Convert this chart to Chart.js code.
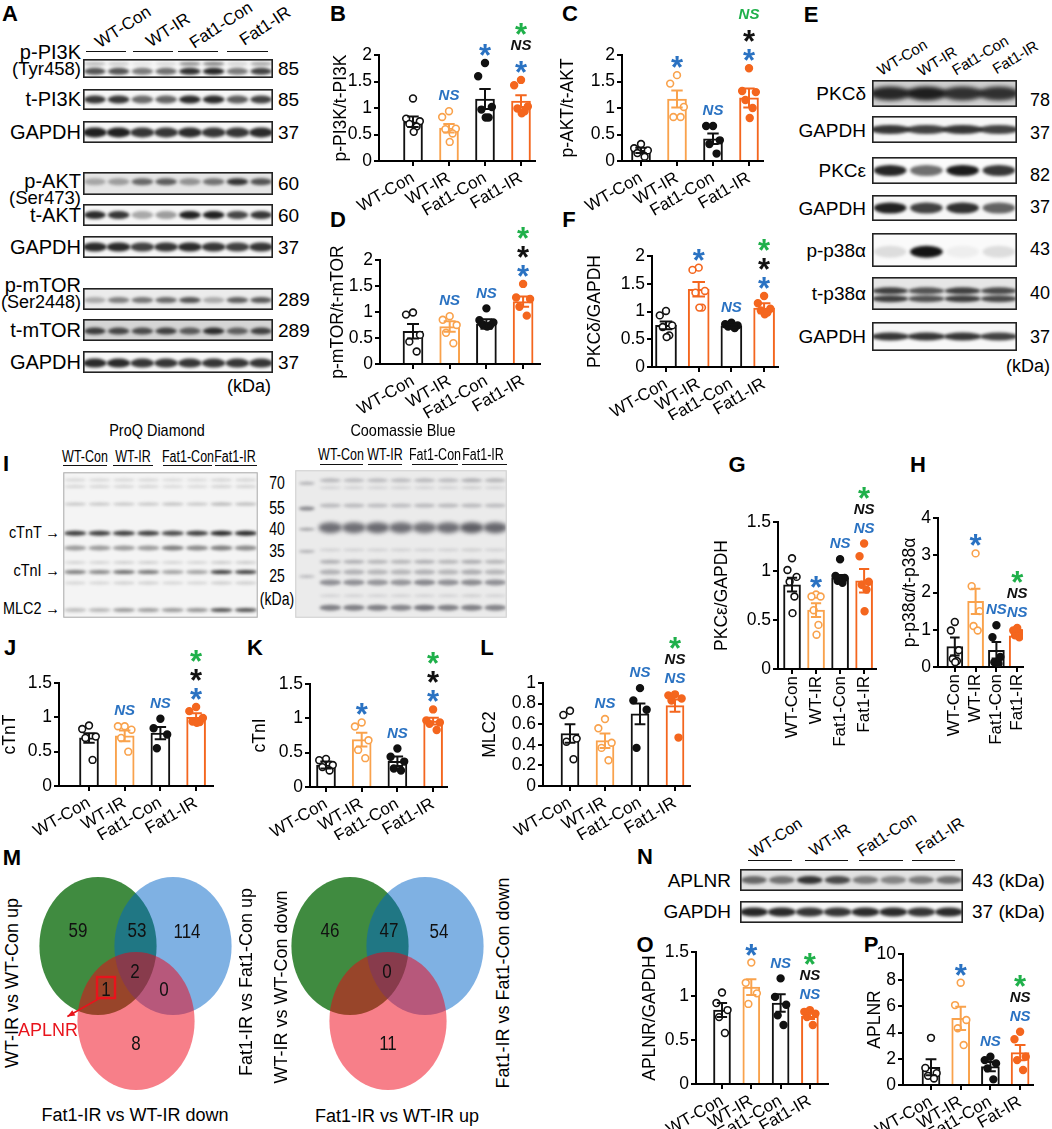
<!DOCTYPE html>
<html>
<head>
<meta charset="utf-8">
<script src="https://cdn.jsdelivr.net/npm/chart.js@4.4.1/dist/chart.umd.min.js"></script>
<style>
  body { margin: 0; background: #fff; }
  #fig { position: relative; width: 1052px; height: 1129px; overflow: hidden; font-family: Arial, "Liberation Sans", sans-serif; color: #000; }
  .t { position: absolute; white-space: nowrap; line-height: 1; }
  .ln { position: absolute; border-top: 1.6px solid #111; height: 0; }
  canvas { position: absolute; }
</style>
</head>
<body>
<div id="fig"></div>
<script>
// ---- data ----
const groups = ["WT-Con", "WT-IR", "Fat1-Con", "Fat1-IR"];
const groupsP = ["WT-Con", "WT-IR", "Fat1-Con", "Fat-IR"];

// B p-PI3K/t-PI3K
const pi3kMean = [0.74, 0.62, 1.17, 1.13];
const pi3kSem = [0.1, 0.08, 0.19, 0.11];
const pi3kDots = [[1.18, 0.8, 0.75, 0.7, 0.65, 0.55], [0.94, 0.83, 0.61, 0.6, 0.52, 0.36], [1.85, 1.6, 1.02, 0.97, 0.82, 0.82], [1.53, 1.43, 1.03, 0.99, 0.94, 0.9]];
const pi3kSig = [[], ["NS:b"], ["*:b"], ["*:b", "NS:k", "*:g"]];
// C p-AKT/t-AKT
const aktMean = [0.2, 1.17, 0.42, 1.19];
const aktSem = [0.05, 0.16, 0.1, 0.18];
const aktDots = [[0.32, 0.24, 0.2, 0.15, 0.08], [1.62, 1.46, 1.02, 0.83, 0.83], [0.66, 0.66, 0.39, 0.32, 0.14], [1.75, 1.32, 1.3, 1.15, 1.0, 0.81]];
const aktSig = [[], ["*:b"], ["NS:b"], ["*:b", "*:k", "NS:g"]];
// D p-mTOR/t-mTOR
const mtorMean = [0.63, 0.72, 0.77, 1.2];
const mtorSem = [0.14, 0.1, 0.09, 0.1];
const mtorDots = [[0.99, 0.95, 0.56, 0.43, 0.24], [0.92, 0.85, 0.75, 0.6, 0.4], [1.07, 0.84, 0.8, 0.76, 0.74, 0.72], [1.54, 1.28, 1.25, 1.1, 0.93]];
const mtorSig = [[], ["NS:b"], ["NS:b"], ["*:b", "*:k", "*:g"]];
// F PKCδ/GAPDH
const pkcdMean = [0.75, 1.4, 0.74, 1.06];
const pkcdSem = [0.07, 0.13, 0.03, 0.09];
const pkcdDots = [[1.01, 0.93, 0.75, 0.72, 0.57, 0.54], [1.79, 1.75, 1.37, 1.34, 1.07, 1.07], [0.8, 0.77, 0.75, 0.73, 0.7], [1.28, 1.15, 1.05, 1.02, 0.98, 0.95]];
const pkcdSig = [[], ["*:b"], ["NS:b"], ["*:b", "*:k", "*:g"]];
// G PKCε/GAPDH
const pkceMean = [0.86, 0.6, 0.93, 0.9];
const pkceSem = [0.07, 0.07, 0.03, 0.12];
const pkceDots = [[1.13, 1.01, 0.94, 0.89, 0.74, 0.57], [0.76, 0.74, 0.74, 0.6, 0.45, 0.35], [1.12, 0.95, 0.93, 0.9, 0.88], [1.28, 1.15, 0.89, 0.86, 0.81, 0.59]];
const pkceSig = [[], ["*:b"], ["NS:b"], ["NS:b", "NS:k", "*:g"]];
// H p-p38α/t-p38α
const p38Mean = [0.55, 1.76, 0.45, 0.84];
const p38Sem = [0.24, 0.34, 0.22, 0.05];
const p38Dots = [[1.21, 0.98, 0.45, 0.22, 0.16, 0.13], [3.05, 2.17, 1.5, 1.1, 0.98], [1.12, 0.8, 0.27, 0.13, 0.09], [1.05, 0.98, 0.91, 0.85, 0.8]];
const p38Sig = [[], ["*:b"], ["NS:b"], ["NS:b", "NS:k", "*:g"]];
// J cTnT
const tntMean = [0.7, 0.73, 0.77, 1.0];
const tntSem = [0.07, 0.08, 0.09, 0.06];
const tntDots = [[0.88, 0.83, 0.72, 0.7, 0.38], [0.87, 0.87, 0.82, 0.7, 0.5], [0.98, 0.84, 0.75, 0.55], [1.15, 1.09, 0.99, 0.94, 0.93, 0.92]];
const tntSig = [[], ["NS:b"], ["NS:b"], ["*:b", "*:k", "*:g"]];
// K cTnI
const tniMean = [0.32, 0.69, 0.375, 0.96];
const tniSem = [0.05, 0.1, 0.07, 0.05];
const tniDots = [[0.41, 0.39, 0.32, 0.29, 0.24], [0.94, 0.88, 0.68, 0.54, 0.42], [0.56, 0.44, 0.37, 0.27, 0.24], [1.13, 0.97, 0.94, 0.92, 0.83]];
const tniSig = [[], ["*:b"], ["NS:b"], ["*:b", "*:k", "*:g"]];
// L MLC2
const mlcMean = [0.51, 0.44, 0.7, 0.78];
const mlcSem = [0.09, 0.07, 0.1, 0.06];
const mlcDots = [[0.73, 0.69, 0.46, 0.43, 0.26], [0.65, 0.56, 0.42, 0.37, 0.25], [0.95, 0.83, 0.74, 0.37], [0.89, 0.88, 0.85, 0.83, 0.47]];
const mlcSig = [[], ["NS:b"], ["NS:b"], ["NS:b", "NS:k", "*:g"]];
// O APLNR/GAPDH
const aplnrMean = [0.84, 1.1, 0.92, 0.77];
const aplnrSem = [0.08, 0.09, 0.1, 0.03];
const aplnrDots = [[1.04, 0.92, 0.84, 0.76, 0.58], [1.38, 1.15, 1.03, 0.91], [1.2, 0.99, 0.9, 0.78, 0.67], [0.84, 0.82, 0.8, 0.76, 0.67]];
const aplnrSig = [[], ["*:b"], ["NS:b"], ["NS:b", "NS:k", "*:g"]];
// P APLNR (mRNA)
const rnaMean = [1.35, 5.09, 1.4, 2.47];
const rnaSem = [0.61, 0.89, 0.35, 0.58];
const rnaDots = [[3.6, 1.3, 0.9, 0.7, 0.5], [7.81, 6.1, 4.96, 4.33, 3.05], [2.16, 1.9, 1.65, 1.27, 0.43], [4.07, 3.49, 2.16, 1.9, 1.15]];
const rnaSig = [[], ["*:b"], ["NS:b"], ["NS:b", "NS:k", "*:g"]];

// Venn counts: [A only, A∩B, B only, A∩B∩C, A∩C, B∩C, C only]
const vennUpCounts = [59, 53, 114, 2, 1, 0, 8];
const vennDownCounts = [46, 47, 54, 0, null, null, 11];

// blot band intensities (0-1), 8 lanes = 2 per group
const aPPI3K = [0.72, 0.72, 0.55, 0.6, 0.88, 0.92, 0.55, 0.8];
const aPPI3Kup = [0.25, 0.18, 0.08, 0.12, 0.45, 0.5, 0.15, 0.35];
const aTPI3K = [0.85, 0.85, 0.62, 0.65, 0.9, 0.9, 0.68, 0.8];
const aGAPDH1 = [0.95, 0.95, 0.85, 0.85, 0.9, 0.85, 0.85, 0.9];
const aPAKT = [0.3, 0.35, 0.6, 0.65, 0.4, 0.55, 0.85, 0.7];
const aTAKT = [0.9, 0.85, 0.35, 0.4, 0.95, 0.95, 0.78, 0.85];
const aGAPDH2 = [0.9, 0.9, 0.8, 0.85, 0.9, 0.85, 0.8, 0.85];
const aPMTOR = [0.3, 0.5, 0.55, 0.6, 0.7, 0.3, 0.65, 0.68];
const aTMTOR = [0.8, 0.75, 0.72, 0.78, 0.65, 0.88, 0.62, 0.78];
const aGAPDH3 = [0.9, 0.9, 0.85, 0.85, 0.85, 0.85, 0.85, 0.85];
// E, one lane per group
const ePKCd = [0.9, 0.95, 0.85, 0.85];
const eGAPDH1 = [0.85, 0.8, 0.85, 0.8];
const ePKCe = [0.92, 0.6, 0.97, 0.85];
const eGAPDH2 = [0.95, 0.8, 0.88, 0.65];
const eP38p = [0.12, 1, 0.05, 0.12];
const eP38t = [0.8, 0.7, 0.8, 0.75];
const eGAPDH3 = [0.85, 0.85, 0.85, 0.8];
// N
const nAPLNR = [0.6, 0.55, 0.85, 0.75, 0.5, 0.45, 0.5, 0.55];
const nGAPDH = [0.92, 0.9, 0.85, 0.85, 0.9, 0.9, 0.85, 0.9];
// I ProQ Diamond gel
const proqTop = [0.14, 0.14, 0.14, 0.14, 0.12, 0.12, 0.16, 0.16];
const proq55 = [0.22, 0.22, 0.22, 0.22, 0.25, 0.22, 0.3, 0.28];
const proqTnT = [0.85, 0.85, 0.85, 0.85, 0.8, 0.85, 0.95, 0.95];
const proq36 = [0.42, 0.42, 0.42, 0.42, 0.55, 0.5, 0.55, 0.5];
const proqMinor = [0.15, 0.15, 0.18, 0.18, 0.15, 0.15, 0.2, 0.2];
const proqTnI = [0.55, 0.5, 0.62, 0.58, 0.38, 0.38, 0.85, 0.85];
const proqMLC2 = [0.25, 0.28, 0.42, 0.4, 0.42, 0.45, 0.75, 0.75];
// I Coomassie gel (ladder lane + 8 lanes)
const cbLadder = [0.35, 0.6, 0.45, 0.35, 0.3];
const cbTop = [0.3, 0.28, 0.28, 0.28, 0.3, 0.28, 0.35, 0.32];
const cb55 = [0.3, 0.3, 0.28, 0.28, 0.3, 0.3, 0.3, 0.28];
const cbActin = [0.75, 0.75, 0.78, 0.75, 0.72, 0.75, 0.85, 0.8];
const cbMid = [0.35, 0.35, 0.32, 0.32, 0.35, 0.32, 0.38, 0.32];
const cbLower = [0.55, 0.55, 0.52, 0.52, 0.6, 0.55, 0.58, 0.55];
const cbBottom = [0.65, 0.65, 0.65, 0.62, 0.7, 0.65, 0.65, 0.62];
const cbFaint = [0.15, 0.15, 0.15, 0.15, 0.15, 0.15, 0.18, 0.15];

// ---- styles ----
const groupColors = ["#111111", "#f9a24c", "#111111", "#f4661e"];
const groupFill = ["#ffffff", "#ffffff", "#111111", "#f4661e"];
const sigColors = { b: "#2a72c2", k: "#111111", g: "#1fb04a" };
const jit = [0, -0.19, 0.19, -0.1, 0.1, 0.02];

Chart.defaults.font.family = 'Arial, "Liberation Sans", sans-serif';
Chart.defaults.color = "#000";

const fig = document.getElementById("fig");

function txt(s, x, y, o = {}) {
  const d = document.createElement("div");
  d.className = "t";
  d.textContent = s;
  d.style.left = x + "px";
  d.style.top = y + "px";
  d.style.fontSize = (o.size || 17) + "px";
  if (o.bold) d.style.fontWeight = "bold";
  if (o.color) d.style.color = o.color;
  const ax = o.align === "right" ? "-100%" : o.align === "left" ? "0" : "-50%";
  if (o.sx) d.style.transformOrigin = o.align === "right" ? "right center" : o.align === "left" ? "left center" : "center";
  d.style.transform = "translate(" + ax + ",-50%)" + (o.rot ? " rotate(" + o.rot + "deg)" : "") + (o.sx ? " scaleX(" + o.sx + ")" : "");
  fig.appendChild(d);
}

function line(x0, x1, y) {
  const d = document.createElement("div");
  d.className = "ln";
  d.style.left = x0 + "px";
  d.style.top = y + "px";
  d.style.width = (x1 - x0) + "px";
  fig.appendChild(d);
}

function canvasAt(l, t, w, h) {
  const c = document.createElement("canvas");
  c.width = w;
  c.height = h;
  c.style.left = l + "px";
  c.style.top = t + "px";
  c.style.width = w + "px";
  c.style.height = h + "px";
  fig.appendChild(c);
  return c;
}

const hidden = (n) => ({
  responsive: false, animation: false, events: [],
  layout: { padding: 0, autoPadding: false },
  plugins: { legend: { display: false }, tooltip: { enabled: false } },
  scales: {
    x: { type: "linear", display: false, min: -0.5, max: n - 0.5 },
    y: { type: "linear", display: false, min: 0, max: 1, reverse: true },
  },
});

// western blot / gel strip
function blot(l, t, w, h, n, rows, look = {}) {
  new Chart(canvasAt(l, t, w, h), {
    type: "scatter",
    data: { datasets: [] },
    options: hidden(n),
    plugins: [{
      id: "bands",
      beforeDraw(chart) {
        const { ctx, scales: { x, y } } = chart;
        const lw = x.getPixelForValue(1) - x.getPixelForValue(0);
        ctx.save();
        ctx.fillStyle = look.bg || "#f7f7f7";
        ctx.fillRect(0, 0, w, h);
        rows.forEach((r) => {
          ctx.filter = "blur(" + (r.blur || 1.4) + "px)";
          r.vals.forEach((v, i) => {
            ctx.fillStyle = "rgba(" + (look.ink || "20,20,20") + "," + v + ")";
            ctx.beginPath();
            ctx.ellipse(x.getPixelForValue(i + (r.start || 0)), y.getPixelForValue(r.y), lw * (r.wf || 0.46), r.th / 2, 0, 0, Math.PI * 2);
            ctx.fill();
          });
        });
        ctx.filter = "none";
        ctx.strokeStyle = look.frame || "#222";
        ctx.lineWidth = look.fw || 1.6;
        ctx.strokeRect(0.8, 0.8, w - 1.6, h - 1.6);
        ctx.restore();
      },
    }],
  });
}

// bar + scatter + SEM panel
function barPanel(p) {
  const [l, t, w, h] = p.box;
  const [x0, x1, yTop, yBot] = p.plot;
  const cols = p.colors || groupColors;
  const fills = p.fills || groupFill;
  const pts = [], pc = [], pf = [];
  p.dots.forEach((g, i) => g.forEach((v, k) => {
    pts.push({ x: i + jit[k % jit.length], y: v });
    pc.push(cols[i]);
    pf.push(fills[i]);
  }));

  const extras = {
    id: "extras",
    afterDatasetsDraw(chart) {
      const { ctx, scales: { x, y } } = chart;
      ctx.save();
      p.mean.forEach((m, i) => {
        const cx = x.getPixelForValue(i);
        const hi = y.getPixelForValue(m + p.sem[i]);
        const lo = y.getPixelForValue(Math.max(m - p.sem[i], 0));
        const cap = p.barW * 0.3;
        ctx.strokeStyle = cols[i];
        ctx.lineWidth = 2;
        ctx.beginPath();
        ctx.moveTo(cx, lo); ctx.lineTo(cx, hi);
        ctx.moveTo(cx - cap, hi); ctx.lineTo(cx + cap, hi);
        ctx.moveTo(cx - cap, lo); ctx.lineTo(cx + cap, lo);
        ctx.stroke();

        const top = Math.min(hi, y.getPixelForValue(Math.max(...p.dots[i])));
        p.sig[i].forEach((s, k) => {
          const [mark, c] = s.split(":");
          const cy = top - 15 - k * 19;
          ctx.fillStyle = sigColors[c];
          ctx.textAlign = "center";
          if (mark === "*") {
            ctx.font = "bold 31px Arial, 'Liberation Sans'";
            ctx.textBaseline = "alphabetic";
            ctx.fillText("*", cx, cy + 18);
          } else {
            ctx.font = "italic bold 15px Arial, 'Liberation Sans'";
            ctx.textBaseline = "middle";
            ctx.fillText(mark, cx, cy);
          }
        });
      });
      ctx.restore();
    },
  };

  new Chart(canvasAt(l, t, w, h), {
    type: "bar",
    data: {
      datasets: [
        { type: "bar", data: p.mean.map((m, i) => ({ x: i, y: m })), backgroundColor: "#ffffff", borderColor: cols, borderWidth: 2, barThickness: p.barW, borderSkipped: "start", order: 2 },
        { type: "scatter", data: pts, pointRadius: 3.4, pointBorderWidth: 1.6, pointBorderColor: pc, pointBackgroundColor: pf, order: 1 },
      ],
    },
    options: {
      responsive: false, animation: false, events: [],
      layout: { padding: { left: 0, top: yTop - t, right: l + w - x1, bottom: 0 }, autoPadding: false },
      plugins: { legend: { display: false }, tooltip: { enabled: false } },
      scales: {
        x: {
          type: "linear", offset: false,
          min: (x0 - p.c0) / p.sp, max: (x1 - p.c0) / p.sp,
          afterBuildTicks: (s) => { s.ticks = p.cats.map((c, i) => ({ value: i })); },
          afterFit: (s) => { s.height = t + h - yBot; },
          ticks: { autoSkip: false, callback: (v) => p.cats[v], minRotation: p.rot, maxRotation: p.rot, font: { size: 17 }, color: "#000", padding: 2 },
          grid: { drawOnChartArea: false, offset: false, color: "#000", lineWidth: 2, tickLength: 5 },
          border: { color: "#000", width: 2 },
        },
        y: {
          min: 0, max: p.ymax,
          afterFit: (s) => { s.width = x0 - l; },
          ticks: { stepSize: p.step, autoSkip: false, callback: (v) => String(+v.toFixed(2)), font: { size: 17.5 }, color: "#000", padding: 2 },
          title: { display: true, text: p.title, font: { size: 17.5 }, color: "#000", padding: 0 },
          grid: { drawOnChartArea: false, color: "#000", lineWidth: 2, tickLength: 5 },
          border: { color: "#000", width: 2 },
        },
      },
    },
    plugins: [extras],
  });
}

// venn diagram, three translucent sets
const vennSets = [
  { cx: 0.305, cy: 0.327, color: "rgba(0,100,0,0.75)" },
  { cx: 0.68, cy: 0.327, color: "rgba(0,100,200,0.5)" },
  { cx: 0.495, cy: 0.673, color: "rgba(240,0,20,0.5)" },
];
const vennR = [0.293, 0.318];
const vennSpots = [[0.205, 0.258], [0.5, 0.258], [0.75, 0.267], [0.49, 0.447], [0.345, 0.53], [0.635, 0.53], [0.495, 0.78]];

function venn(l, t, w, h, counts, mark) {
  new Chart(canvasAt(l, t, w, h), {
    type: "scatter",
    data: { datasets: [] },
    options: hidden(1),
    plugins: [{
      id: "venn",
      afterDraw(chart) {
        const { ctx, scales: { y } } = chart;
        const px = (f) => f * w;
        const py = (f) => y.getPixelForValue(f);
        ctx.save();
        vennSets.forEach((s) => {
          ctx.fillStyle = s.color;
          ctx.beginPath();
          ctx.ellipse(px(s.cx), py(s.cy), vennR[0] * w, vennR[1] * h, 0, 0, Math.PI * 2);
          ctx.fill();
        });
        ctx.fillStyle = "#111";
        ctx.font = "20px Arial, 'Liberation Sans'";
        ctx.textAlign = "center";
        ctx.textBaseline = "middle";
        counts.forEach((c, i) => {
          if (c === null) return;
          ctx.save();
          ctx.translate(px(vennSpots[i][0]), py(vennSpots[i][1]));
          ctx.scale(0.85, 1);
          ctx.fillText(String(c), 0, 0);
          ctx.restore();
        });
        if (mark) {
          ctx.strokeStyle = "#e8141c";
          ctx.fillStyle = "#e8141c";
          ctx.lineWidth = 2.4;
          ctx.strokeRect(px(0.3), py(0.47), px(0.09), py(0.567) - py(0.47));
          const ax0 = px(0.315), ay0 = py(0.567), ax1 = px(0.152), ay1 = py(0.652);
          ctx.lineWidth = 1.6;
          ctx.beginPath();
          ctx.moveTo(ax0, ay0);
          ctx.lineTo(ax1, ay1);
          ctx.stroke();
          const a = Math.atan2(ay1 - ay0, ax1 - ax0);
          ctx.beginPath();
          ctx.moveTo(ax1, ay1);
          ctx.lineTo(ax1 - 8 * Math.cos(a - 0.4), ay1 - 8 * Math.sin(a - 0.4));
          ctx.lineTo(ax1 - 8 * Math.cos(a + 0.4), ay1 - 8 * Math.sin(a + 0.4));
          ctx.closePath();
          ctx.fill();
        }
        ctx.restore();
      },
    }],
  });
}

// ---- panel letters ----
[["A", 10, 14], ["B", 338, 14], ["C", 570, 14], ["E", 811, 15], ["D", 338, 220], ["F", 569, 220],
 ["I", 6, 464], ["G", 737, 465], ["H", 918, 465], ["J", 10, 648], ["K", 255, 648], ["L", 487, 648],
 ["M", 12, 858], ["N", 645, 857], ["O", 645, 945], ["P", 871, 945]].forEach(([s, x, y]) => txt(s, x, y, { size: 22, bold: true }));

// ---- A: PI3K / AKT / mTOR blots ----
txt("WT-Con", 123, 27, { size: 17, rot: -33 });
txt("WT-IR", 168, 30, { size: 17, rot: -33 });
txt("Fat1-Con", 221, 25, { size: 17, rot: -33 });
txt("Fat1-IR", 265, 26, { size: 17, rot: -33 });
line(86, 126, 51); line(133, 173, 51); line(178, 218, 51); line(227, 268, 51);

blot(83, 59, 190, 19, 8, [{ y: 0.25, th: 4, vals: aPPI3Kup, blur: 1.5 }, { y: 0.65, th: 7, vals: aPPI3K }]);
blot(83, 89, 190, 21, 8, [{ y: 0.5, th: 8, vals: aTPI3K }]);
blot(83, 121, 190, 22, 8, [{ y: 0.52, th: 10, vals: aGAPDH1, wf: 0.5 }]);
blot(83, 172, 190, 23, 8, [{ y: 0.42, th: 7, vals: aPAKT }], { bg: "#e6e6e6" });
blot(83, 204, 190, 22, 8, [{ y: 0.5, th: 8, vals: aTAKT }]);
blot(83, 236, 190, 22, 8, [{ y: 0.5, th: 9, vals: aGAPDH2, wf: 0.5 }]);
blot(83, 288, 190, 22, 8, [{ y: 0.55, th: 6, vals: aPMTOR }], { bg: "#ececec" });
blot(83, 319, 190, 22, 8, [{ y: 0.55, th: 7, vals: aTMTOR }], { bg: "#d5d5d5" });
blot(83, 351, 190, 22, 8, [{ y: 0.55, th: 9, vals: aGAPDH3, wf: 0.5 }]);

[["p-PI3K", 52, 20], ["(Tyr458)", 69, 18.5], ["t-PI3K", 99, 20], ["GAPDH", 132, 20], ["p-AKT", 181, 20], ["(Ser473)", 198, 18.5],
 ["t-AKT", 215, 20], ["GAPDH", 247, 20], ["p-mTOR", 285, 20], ["(Ser2448)", 302, 18], ["t-mTOR", 330, 20], ["GAPDH", 362, 20]]
  .forEach(([s, y, fs]) => txt(s, 81, y, { size: fs, align: "right" }));
[["85", 68], ["85", 99], ["37", 132], ["60", 183], ["60", 215], ["37", 247], ["289", 299], ["289", 330], ["37", 362]]
  .forEach(([s, y]) => txt(s, 278, y, { size: 19, align: "left" }));
txt("(kDa)", 249, 386, { size: 18 });

// ---- E: PKC / p38 blots ----
txt("WT-Con", 902, 57, { size: 15, rot: -31 });
txt("WT-IR", 937, 61, { size: 15, rot: -31 });
txt("Fat1-Con", 980, 55, { size: 15, rot: -31 });
txt("Fat1-IR", 1015, 57, { size: 15, rot: -31 });
blot(872, 80, 145, 27, 4, [{ y: 0.5, th: 14, vals: ePKCd, wf: 0.56, blur: 2 }], { bg: "#cfcfcf" });
blot(872, 116, 145, 27, 4, [{ y: 0.5, th: 9, vals: eGAPDH1, wf: 0.55 }]);
blot(872, 157, 145, 27, 4, [{ y: 0.5, th: 11, vals: ePKCe, wf: 0.45 }], { bg: "#fbfbfb" });
blot(872, 195, 145, 26, 4, [{ y: 0.5, th: 11, vals: eGAPDH2, wf: 0.45 }]);
blot(872, 233, 145, 34, 4, [{ y: 0.55, th: 12, vals: eP38p, wf: 0.45, blur: 1.8 }], { bg: "#fafafa" });
blot(872, 277, 145, 33, 4, [{ y: 0.42, th: 7, vals: eP38t, wf: 0.5 }, { y: 0.66, th: 7, vals: eP38t, wf: 0.5 }], { bg: "#e6e6e6" });
blot(872, 322, 145, 29, 4, [{ y: 0.5, th: 8, vals: eGAPDH3, wf: 0.52 }]);
[["PKCδ", 93], ["GAPDH", 130], ["PKCε", 170], ["GAPDH", 208], ["p-p38α", 250], ["t-p38α", 293], ["GAPDH", 336]]
  .forEach(([s, y]) => txt(s, 866, y, { size: 19, align: "right" }));
[["78", 100], ["37", 133], ["82", 175], ["37", 207], ["43", 249], ["40", 293], ["37", 337]]
  .forEach(([s, y]) => txt(s, 1030, y, { size: 18, align: "left" }));
txt("(kDa)", 1028, 366, { size: 18 });

// ---- B, C, D, F ----
barPanel({ box: [331, 0, 214, 222], plot: [379, 535, 55, 161], c0: 413, sp: 36, ymax: 2, step: 0.5, barW: 19, rot: 30,
  title: "p-PI3K/t-PI3K", cats: groups, mean: pi3kMean, sem: pi3kSem, dots: pi3kDots, sig: pi3kSig });
barPanel({ box: [558, 0, 210, 222], plot: [622, 763, 55, 161], c0: 641, sp: 36, ymax: 2, step: 0.5, barW: 19, rot: 30,
  title: "p-AKT/t-AKT", cats: groups, mean: aktMean, sem: aktSem, dots: aktDots, sig: aktSig });
barPanel({ box: [328, 205, 217, 215], plot: [380, 540, 260, 364], c0: 413, sp: 36.7, ymax: 2, step: 0.5, barW: 20, rot: 30,
  title: "p-mTOR/t-mTOR", cats: groups, mean: mtorMean, sem: mtorSem, dots: mtorDots, sig: mtorSig });
barPanel({ box: [585, 205, 198, 215], plot: [652, 778, 256, 367], c0: 666, sp: 32.7, ymax: 2, step: 0.5, barW: 21, rot: 30,
  title: "PKCδ/GAPDH", cats: groups, mean: pkcdMean, sem: pkcdSem, dots: pkcdDots, sig: pkcdSig,
  colors: ["#111111", "#f4661e", "#111111", "#f4661e"] });

// ---- I: gels ----
txt("ProQ Diamond", 157, 430, { size: 17, sx: 0.85 });
txt("Coomassie Blue", 403, 430, { size: 17, sx: 0.85 });
[["WT-Con", 85], ["WT-IR", 133], ["Fat1-Con", 188], ["Fat1-IR", 235]].forEach(([s, x]) => txt(s, x, 457, { size: 16, sx: 0.78 }));
line(63, 107, 465); line(113, 153, 465); line(163, 212, 465); line(215, 257, 465);
[["WT-Con", 341], ["WT-IR", 385], ["Fat1-Con", 435], ["Fat1-IR", 483]].forEach(([s, x]) => txt(s, x, 455, { size: 16, sx: 0.78 }));
line(320, 363, 464); line(368, 402, 464); line(412, 458, 464); line(462, 507, 464);

blot(63, 472, 195, 146, 8, [
  { y: 0.055, th: 3, vals: proqTop }, { y: 0.1, th: 3, vals: proqTop }, { y: 0.22, th: 3, vals: proq55 },
  { y: 0.42, th: 5, vals: proqTnT }, { y: 0.52, th: 5, vals: proq36 }, { y: 0.62, th: 3, vals: proqMinor },
  { y: 0.685, th: 4, vals: proqTnI }, { y: 0.76, th: 3, vals: proqMinor }, { y: 0.945, th: 4, vals: proqMLC2 },
], { bg: "#f4f4f4", frame: "#aaaaaa", fw: 1, ink: "30,30,30" });
blot(295, 470, 212, 148, 9, [
  { y: 0.09, th: 3, vals: [cbLadder[0]], wf: 0.34 }, { y: 0.26, th: 4, vals: [cbLadder[1]], wf: 0.34 },
  { y: 0.4, th: 3, vals: [cbLadder[2]], wf: 0.34 }, { y: 0.55, th: 3, vals: [cbLadder[3]], wf: 0.34 },
  { y: 0.72, th: 3, vals: [cbLadder[4]], wf: 0.34 },
  { y: 0.07, th: 4, vals: cbTop, start: 1 }, { y: 0.12, th: 3, vals: cbFaint, start: 1 },
  { y: 0.24, th: 4, vals: cb55, start: 1 }, { y: 0.39, th: 11, vals: cbActin, start: 1, wf: 0.5, blur: 2 },
  { y: 0.54, th: 3, vals: cbFaint, start: 1 }, { y: 0.62, th: 4, vals: cbMid, start: 1 },
  { y: 0.69, th: 5, vals: cbMid, start: 1 }, { y: 0.76, th: 6, vals: cbLower, start: 1 },
  { y: 0.85, th: 3, vals: cbFaint, start: 1 }, { y: 0.93, th: 6, vals: cbBottom, start: 1 },
], { bg: "#ebebeb", frame: "#d0d0d0", fw: 1, ink: "70,70,78" });

[["cTnT →", 532], ["cTnI →", 570], ["MLC2 →", 608]].forEach(([s, y]) => txt(s, 60, y, { size: 17, sx: 0.85, align: "right" }));
[["70", 483], ["55", 508], ["40", 529], ["35", 551], ["25", 576], ["(kDa)", 599]].forEach(([s, y]) => txt(s, 277, y, { size: 18, sx: 0.78 }));

// ---- G, H ----
barPanel({ box: [712, 470, 175, 290], plot: [778, 883, 522, 669], c0: 793, sp: 25.7, ymax: 1.5, step: 0.5, barW: 17, rot: 90,
  title: "PKCε/GAPDH", cats: groups, mean: pkceMean, sem: pkceSem, dots: pkceDots, sig: pkceSig });
barPanel({ box: [900, 470, 140, 290], plot: [938, 1034, 518, 667], c0: 957, sp: 23.5, ymax: 4, step: 1, barW: 16, rot: 90,
  title: "p-p38α/t-p38α", cats: groups, mean: p38Mean, sem: p38Sem, dots: p38Dots, sig: p38Sig });

// ---- J, K, L ----
barPanel({ box: [0, 635, 220, 205], plot: [59, 213, 683, 786], c0: 89, sp: 35.7, ymax: 1.5, step: 0.5, barW: 19, rot: 30,
  title: "cTnT", cats: groups, mean: tntMean, sem: tntSem, dots: tntDots, sig: tntSig });
barPanel({ box: [250, 635, 202, 205], plot: [310, 447, 684, 787], c0: 326, sp: 35.7, ymax: 1.5, step: 0.5, barW: 19, rot: 30,
  title: "cTnI", cats: groups, mean: tniMean, sem: tniSem, dots: tniDots, sig: tniSig });
barPanel({ box: [480, 635, 215, 205], plot: [543, 690, 683, 786], c0: 570, sp: 35, ymax: 1, step: 0.2, barW: 18, rot: 30,
  title: "MLC2", cats: groups, mean: mlcMean, sem: mlcSem, dots: mlcDots, sig: mlcSig });

// ---- M: venn ----
venn(37, 875, 200, 217, vennUpCounts, true);
venn(289, 875, 200, 217, vennDownCounts, false);
txt("WT-IR vs WT-Con up", 12, 983, { size: 18, rot: -90 });
txt("Fat1-IR vs Fat1-Con up", 246, 982, { size: 18, rot: -90 });
txt("WT-IR vs WT-Con down", 281, 987, { size: 18, rot: -90 });
txt("Fat1-IR vs Fat1-Con down", 503, 983, { size: 18, rot: -90 });
txt("Fat1-IR vs WT-IR down", 135, 1115, { size: 18 });
txt("Fat1-IR vs WT-IR up", 397, 1116, { size: 18 });
txt("APLNR", 48, 1030, { size: 18, color: "#e8141c" });

// ---- N: APLNR blot ----
txt("WT-Con", 776, 838, { size: 16, rot: -33 });
txt("WT-IR", 830, 840, { size: 16, rot: -33 });
txt("Fat1-Con", 887, 835, { size: 16, rot: -33 });
txt("Fat1-IR", 940, 836, { size: 16, rot: -33 });
line(748, 792, 860); line(805, 848, 860); line(859, 903, 860); line(912, 955, 860);
blot(740, 869, 223, 22, 8, [{ y: 0.5, th: 8, vals: nAPLNR }], { bg: "#e2e2e2" });
blot(740, 901, 223, 22, 8, [{ y: 0.5, th: 9, vals: nGAPDH, wf: 0.5 }]);
txt("APLNR", 731, 880, { size: 19, align: "right" });
txt("GAPDH", 731, 911, { size: 19, align: "right" });
txt("43 (kDa)", 972, 880, { size: 19, align: "left" });
txt("37 (kDa)", 972, 911, { size: 19, align: "left" });

// ---- O, P ----
barPanel({ box: [640, 925, 193, 204], plot: [696, 828, 952, 1084], c0: 722, sp: 29.3, ymax: 1.5, step: 0.5, barW: 17, rot: 30,
  title: "APLNR/GAPDH", cats: groups, mean: aplnrMean, sem: aplnrSem, dots: aplnrDots, sig: aplnrSig });
barPanel({ box: [865, 925, 175, 204], plot: [903, 1033, 954, 1085], c0: 931, sp: 29.7, ymax: 10, step: 2, barW: 18, rot: 30,
  title: "APLNR", cats: groupsP, mean: rnaMean, sem: rnaSem, dots: rnaDots, sig: rnaSig });
</script>
</body>
</html>
